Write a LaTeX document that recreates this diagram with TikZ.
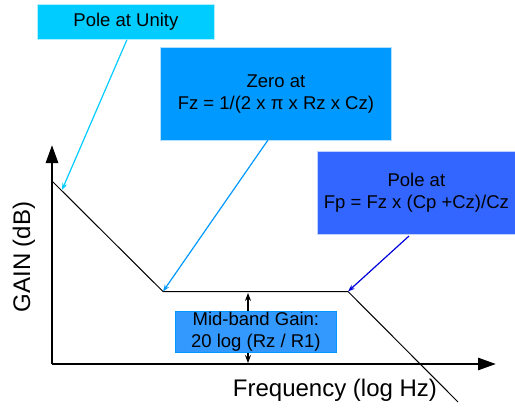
\documentclass[tikz,border=0pt]{standalone}
\usepackage{fontspec}
\setmainfont{Liberation Sans}
\usetikzlibrary{arrows.meta}
\definecolor{cUnity}{HTML}{00CCFF}
\definecolor{cZero}{HTML}{0099FF}
\definecolor{cFp}{HTML}{3366FF}
\definecolor{cMid}{HTML}{3399FF}
\definecolor{cFpArrow}{HTML}{0000DD}
\begin{document}
\begin{tikzpicture}[x=1pt,y=-1pt,
  labelbox/.style={anchor=north west,inner sep=0pt,align=center,font=\fontsize{18.5}{22}\selectfont,draw=white!70!#1,line width=0.8pt,fill=#1},
  axis/.style={line width=2.8pt,-{Triangle[length=18pt,width=12pt]}},
  curve/.style={line width=1pt},
  pointer/.style={line width=1.2pt,draw=#1,-{Stealth[length=7pt,width=5pt]}},
  dim/.style={line width=1.1pt,{Stealth[length=8pt,width=6pt]}-{Stealth[length=8pt,width=6pt]}}]
\useasboundingbox (0,0) rectangle (515,408);
% curve points
\coordinate (o) at (52,364);
\coordinate (ytop) at (52,145);
\coordinate (xend) at (496,364);
\coordinate (p0) at (52,181);
\coordinate (pz) at (163,291.5);
\coordinate (pp) at (348,291.5);
\coordinate (p3) at (458,402);
\coordinate (d1) at (248,293);
\coordinate (d2) at (248,363);
% dimension arrow behind box
\draw[dim] (d1) -- (d2);
% boxes
\node[labelbox=cUnity,minimum width=177pt,minimum height=35pt] (unity) at (37,4) {Pole at Unity};
\node[labelbox=cZero,minimum width=231pt,minimum height=93pt] (zero) at (160,47) {Zero at\\Fz = 1/(2 x π x Rz x Cz)};
\node[labelbox=cFp,minimum width=198pt,minimum height=83pt] (fp) at (317,151) {Pole at\\Fp = Fz x (Cp +Cz)/Cz};
\node[labelbox=cMid,minimum width=161pt,minimum height=41pt,draw=cZero] (mid) at (175,311) {Mid-band Gain:\\20 log (Rz / R1)};
% axes
\draw[axis] (o) -- (ytop);
\draw[axis] (o) -- (xend);
% response
\draw[curve] (p0) -- (pz) -- (pp) -- (p3);
% pointers
\draw[pointer=cUnity] (unity.south) ++(1,0) coordinate (u1) -- (62,190);
\draw[pointer=cZero] (268,140) -- (pz);
\draw[pointer=cFpArrow] (409,236) -- (pp);
% axis labels
\node[rotate=90,font=\fontsize{24}{28}\selectfont] (ylab) at (24,257) {GAIN (dB)};
\node[font=\fontsize{24}{28}\selectfont] (xlab) at (335,390) {Frequency (log Hz)};
\end{tikzpicture}
\end{document}
